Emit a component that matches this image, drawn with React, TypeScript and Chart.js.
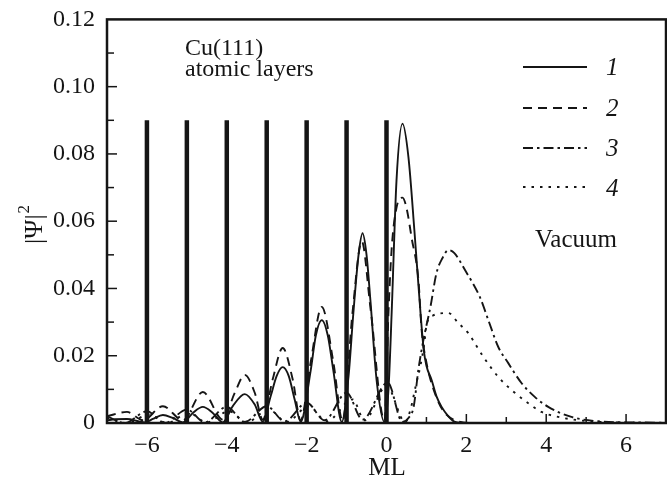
import React, { useEffect, useRef } from 'react';
import { Chart, registerables } from 'chart.js';

Chart.register(...registerables);

// Atomic layer positions (ML) and marker height
const layerPositions = [-6, -5, -4, -3, -2, -1, 0];
const layerHeight = 0.09;

// Curve 1 (solid)
const x1 = [-7, -6.8, -6.5, -6.2, -6.05, -5.85, -5.6, -5.35, -5.1, -4.85, -4.6, -4.35, -4.1, -3.85, -3.55, -3.3, -3.1, -2.9, -2.75, -2.6, -2.45, -2.3, -2.15, -1.9, -1.77, -1.62, -1.47, -1.33, -1.12, -0.95, -0.83, -0.7, -0.6, -0.5, -0.4, -0.25, -0.05, 0.05, 0.13, 0.25, 0.4, 0.55, 0.7, 0.85, 0.93, 1.0, 1.13, 1.25, 1.38, 1.55, 1.72, 2.0, 3.0, 5.0, 7.0];
const y1 = [0.0008, 0.0011, 0.0012, 0.0005, 0.0002, 0.0012, 0.0024, 0.0015, 0.0002, 0.003, 0.0048, 0.003, 0.0002, 0.005, 0.0086, 0.0055, 0.0004, 0.008, 0.014, 0.0166, 0.014, 0.007, 0.0004, 0.0155, 0.026, 0.0306, 0.026, 0.0155, 0.0003, 0.014, 0.0327, 0.05, 0.0564, 0.05, 0.036, 0.013, 0.0003, 0.01, 0.033, 0.072, 0.089, 0.079, 0.057, 0.033, 0.022, 0.017, 0.0128, 0.008, 0.0048, 0.002, 0.0003, 0, 0, 0, 0];

// Curve 2 (dashed)
const x2 = [-7, -6.5, -6.1, -5.6, -5.1, -4.6, -4.1, -3.8, -3.55, -3.3, -3.1, -2.85, -2.6, -2.35, -2.15, -1.9, -1.62, -1.33, -1.1, -0.85, -0.62, -0.4, -0.05, 0.05, 0.13, 0.25, 0.4, 0.5, 0.63, 0.8, 0.88, 1.0, 1.15, 1.4, 1.8, 2.2, 7];
const y2 = [0.002, 0.0033, 0.0008, 0.005, 0.0008, 0.0092, 0.001, 0.009, 0.0143, 0.009, 0.001, 0.013, 0.0223, 0.013, 0.0008, 0.018, 0.0345, 0.018, 0.0006, 0.033, 0.054, 0.034, 0.0006, 0.033, 0.052, 0.064, 0.067, 0.064, 0.055, 0.0425, 0.0276, 0.018, 0.011, 0.004, 0.0005, 0, 0];

// Curve 3 (dash-dot)
const x3 = [-7, -6.55, -6.0, -5.55, -5.0, -4.55, -4.0, -3.55, -3.0, -2.55, -2.0, -1.55, -1.0, -0.6, 0.03, 0.4, 0.55, 0.68, 0.8, 0.93, 1.1, 1.25, 1.4, 1.55, 1.7, 1.97, 2.34, 2.55, 2.8, 3.05, 3.38, 3.72, 4.05, 4.63, 5.3, 6.0, 7.0];
const y3 = [0.002, 0, 0.0035, 0, 0.004, 0.0002, 0.0048, 0.0003, 0.005, 0.0005, 0.006, 0.0008, 0.009, 0.001, 0.012, 0.0003, 0.0015, 0.0048, 0.016, 0.025, 0.0345, 0.0445, 0.049, 0.0514, 0.0505, 0.0454, 0.0374, 0.0306, 0.0226, 0.0178, 0.0119, 0.0077, 0.0048, 0.0018, 0.0005, 0.0002, 0.0001];

// Curve 4 (dotted)
const x4 = [-7, -6.5, -5.95, -5.5, -4.95, -4.5, -3.95, -3.5, -2.95, -2.5, -1.95, -1.5, -0.85, -0.55, 0.0, 0.47, 0.6, 0.75, 0.85, 0.95, 1.0, 1.17, 1.55, 1.8, 2.05, 2.25, 2.43, 2.8, 3.22, 3.55, 3.88, 4.3, 5.0, 6.0, 7.0];
const y4 = [0.0015, 0, 0.0025, 0, 0.003, 0.0002, 0.0035, 0.0002, 0.004, 0.0003, 0.005, 0.0005, 0.007, 0.0008, 0.011, 0.0003, 0.004, 0.012, 0.017, 0.024, 0.029, 0.032, 0.0327, 0.0297, 0.0267, 0.023, 0.0196, 0.0137, 0.0089, 0.0059, 0.0033, 0.0018, 0.0006, 0.0001, 0];

// Axis ticks
const xTickValues = [-6, -4, -2, 0, 2, 4, 6];
const xTickLabels = ['\u22126', '\u22124', '\u22122', '0', '2', '4', '6'];
const yTickValues = [0, 0.02, 0.04, 0.06, 0.08, 0.1, 0.12];
const yTickLabels = ['0', '0.02', '0.04', '0.06', '0.08', '0.10', '0.12'];

// Legend labels
const legendLabels = ['1', '2', '3', '4'];

const SERIF = "'Liberation Serif', 'Times New Roman', serif";
const INK = '#151515';
const DASHES: number[][] = [[], [9, 6], [10, 4, 2.5, 4], [2.5, 6]];

// target plot frame in page pixels
const FRAME = { left: 107, top: 19, right: 666, bottom: 423 };
const W = 667;
const H = 489;

export default function App() {
  const ref = useRef<HTMLCanvasElement>(null);

  useEffect(() => {
    const canvas = ref.current;
    if (!canvas) return;
    const toPts = (xs: number[], ys: number[]) => xs.map((x, i) => ({ x, y: ys[i] }));
    const layerData: any[] = [];
    layerPositions.forEach((p) => {
      layerData.push({ x: p, y: 0 }, { x: p, y: layerHeight }, { x: p, y: null });
    });

    let offY = 0;

    const curve = (data: any[], dash: number[]) => ({
      data,
      borderColor: INK,
      borderWidth: 1.9,
      borderDash: dash,
      pointRadius: 0,
      fill: false,
      cubicInterpolationMode: 'monotone' as const,
    });

    const decor = {
      id: 'decor',
      afterDatasetsDraw(chart: any) {
        const { ctx, chartArea } = chart;
        const { left, right, top, bottom } = chartArea;
        const xs = chart.scales.x;
        const ys = chart.scales.y;
        ctx.save();
        ctx.strokeStyle = INK;
        ctx.fillStyle = INK;
        ctx.setLineDash([]);
        // frame
        ctx.lineWidth = 2.5;
        ctx.strokeRect(left, top, right - left, bottom - top);
        // inward ticks
        ctx.lineWidth = 1.5;
        for (let v = -6; v <= 6; v++) {
          const px = xs.getPixelForValue(v);
          const len = v % 2 === 0 ? 9 : 6;
          ctx.beginPath();
          ctx.moveTo(px, bottom);
          ctx.lineTo(px, bottom - len);
          ctx.stroke();
        }
        for (let k = 1; k <= 11; k++) {
          const py = ys.getPixelForValue(k * 0.01);
          const len = k % 2 === 0 ? 10 : 7;
          ctx.beginPath();
          ctx.moveTo(left, py);
          ctx.lineTo(left + len, py);
          ctx.stroke();
        }
        // page-coordinate annotations
        ctx.translate(0, offY);
        const legY = [67, 108, 148, 187];
        const labY = [75, 116, 156, 196];
        ctx.lineWidth = 1.9;
        legendLabels.forEach((lab, i) => {
          ctx.setLineDash(DASHES[i]);
          ctx.beginPath();
          ctx.moveTo(523, legY[i]);
          ctx.lineTo(587, legY[i]);
          ctx.stroke();
          ctx.setLineDash([]);
          ctx.font = `italic 25px ${SERIF}`;
          ctx.textAlign = 'left';
          ctx.textBaseline = 'alphabetic';
          ctx.fillText(lab, 606, labY[i]);
        });
        ctx.font = `24px ${SERIF}`;
        ctx.fillText('Cu(111)', 185, 55);
        ctx.fillText('atomic layers', 185, 76);
        ctx.font = `25px ${SERIF}`;
        ctx.fillText('Vacuum', 535, 247);
        ctx.textAlign = 'center';
        ctx.fillText('ML', 387, 475);
        ctx.save();
        ctx.translate(0, 244);
        ctx.rotate(-Math.PI / 2);
        ctx.textAlign = 'left';
        ctx.font = `26px ${SERIF}`;
        const main = '|\u03A8|';
        ctx.fillText(main, 0, 42);
        const w = ctx.measureText(main).width;
        ctx.font = `17px ${SERIF}`;
        ctx.fillText('2', w + 1, 29);
        ctx.restore();
        ctx.restore();
      },
    };

    const chart = new Chart(canvas, {
      type: 'line',
      data: {
        datasets: [
          {
            data: layerData,
            borderColor: INK,
            borderWidth: 4.5,
            pointRadius: 0,
            spanGaps: false,
            fill: false,
          } as any,
          curve(toPts(x1, y1), []),
          curve(toPts(x2, y2), [9, 6]),
          curve(toPts(x3, y3), [10, 4, 2.5, 4]),
          curve(toPts(x4, y4), [2.5, 6]),
        ],
      },
      options: {
        animation: false,
        responsive: false,
        maintainAspectRatio: false,
        layout: { padding: { top: FRAME.top, right: W - FRAME.right, left: 0, bottom: 0 } },
        plugins: { legend: { display: false }, tooltip: { enabled: false } },
        scales: {
          x: {
            type: 'linear',
            min: -7,
            max: 7,
            grid: { display: false, drawTicks: false },
            border: { display: false },
            ticks: {
              stepSize: 1,
              autoSkip: false,
              maxRotation: 0,
              padding: 8,
              color: INK,
              font: { family: SERIF, size: 24 },
              callback: (v: any) => {
                const i = xTickValues.findIndex((t) => Math.abs(t - Number(v)) < 1e-9);
                return i >= 0 ? xTickLabels[i] : '';
              },
            },
            afterFit: (s: any) => {
              s.height = H - FRAME.bottom;
            },
          },
          y: {
            type: 'linear',
            min: 0,
            max: 0.12,
            grid: { display: false, drawTicks: false },
            border: { display: false },
            ticks: {
              stepSize: 0.02,
              autoSkip: false,
              padding: 12,
              color: INK,
              font: { family: SERIF, size: 24 },
              callback: (v: any) => {
                const i = yTickValues.findIndex((t) => Math.abs(t - Number(v)) < 1e-9);
                return i >= 0 ? yTickLabels[i] : '';
              },
            },
            afterFit: (s: any) => {
              s.width = FRAME.left;
            },
          },
        },
      } as any,
      plugins: [decor],
    });

    // correct for internal layout padding so the frame lands on target pixels
    const a = chart.chartArea;
    const extraR = Math.round(FRAME.right - a.right);
    const extraT = Math.round(a.top - FRAME.top);
    if (extraR !== 0 || extraT !== 0) {
      offY = extraT;
      canvas.style.position = 'absolute';
      canvas.style.left = '0px';
      canvas.style.top = `${-extraT}px`;
      chart.resize(W + extraR, H + extraT);
    }

    return () => chart.destroy();
  }, []);

  return (
    <div style={{ position: 'absolute', left: 0, top: 0, width: W, height: H, overflow: 'hidden', background: '#fff' }}>
      <canvas ref={ref} width={W} height={H} style={{ display: 'block', width: W, height: H }} />
    </div>
  );
}
